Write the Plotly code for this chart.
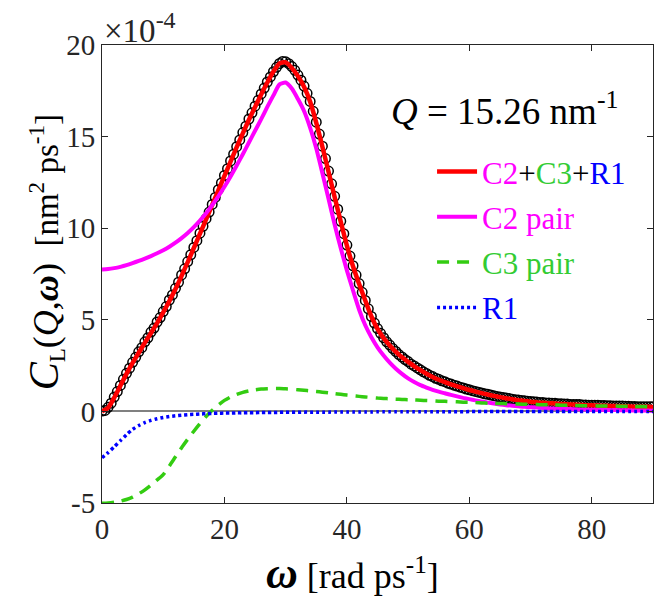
import plotly.graph_objects as go

# ---------------- data (values in units of 1e-4 nm^2 ps^-1) ----------------
omega_data = [i * 0.5 for i in range(181)]
c_data = [
    0.02, 0.05, 0.22, 0.45, 0.78, 1.08, 1.42, 1.75, 2.08, 2.36,
    2.68, 2.95, 3.25, 3.48, 3.80, 4.02, 4.33, 4.55, 4.88, 5.12,
    5.45, 5.72, 6.08, 6.36, 6.72, 7.05, 7.45, 7.78, 8.18, 8.55,
    8.95, 9.32, 9.73, 10.10, 10.52, 10.88, 11.30, 11.68, 12.10, 12.47,
    12.88, 13.25, 13.67, 14.04, 14.45, 14.82, 15.22, 15.57, 15.96, 16.30,
    16.66, 16.98, 17.33, 17.65, 17.98, 18.26, 18.54, 18.78, 18.99, 19.10,
    19.08, 18.98, 18.82, 18.62, 18.36, 18.08, 17.76, 17.36, 16.92, 16.38,
    15.79, 15.14, 14.48, 13.80, 13.12, 12.42, 11.74, 11.04, 10.38, 9.70,
    9.08, 8.48, 7.95, 7.44, 6.98, 6.50, 6.06, 5.60, 5.18, 4.82,
    4.52, 4.26, 4.02, 3.80, 3.62, 3.43, 3.27, 3.10, 2.97, 2.83,
    2.72, 2.58, 2.48, 2.37, 2.27, 2.16, 2.07, 1.97, 1.90, 1.81,
    1.75, 1.67, 1.62, 1.54, 1.49, 1.43, 1.38, 1.32, 1.28, 1.22,
    1.18, 1.13, 1.09, 1.05, 1.01, 0.96, 0.93, 0.89, 0.86, 0.82,
    0.79, 0.76, 0.73, 0.70, 0.67, 0.64, 0.62, 0.60, 0.58, 0.56,
    0.54, 0.52, 0.51, 0.49, 0.48, 0.46, 0.46, 0.44, 0.44, 0.42,
    0.42, 0.40, 0.40, 0.38, 0.38, 0.37, 0.37, 0.35, 0.35, 0.34,
    0.34, 0.33, 0.33, 0.32, 0.32, 0.31, 0.31, 0.30, 0.30, 0.29,
    0.29, 0.28, 0.28, 0.27, 0.27, 0.26, 0.26, 0.26, 0.25, 0.25,
    0.25,
]

omega_fit = list(range(91))
c_total = [
    0.00, 0.20, 0.75, 1.40, 2.05, 2.65, 3.20, 3.75, 4.28, 4.82,
    5.40, 6.02, 6.68, 7.40, 8.15, 8.92, 9.70, 10.48, 11.27, 12.06,
    12.85, 13.64, 14.42, 15.18, 15.92, 16.62, 17.30, 17.95, 18.55, 19.00,
    19.05, 18.75, 18.30, 17.72, 16.90, 15.75, 14.45, 13.08, 11.70, 10.35,
    9.05, 7.92, 6.95, 6.05, 5.18, 4.50, 4.00, 3.60, 3.25, 2.95,
    2.70, 2.46, 2.25, 2.05, 1.88, 1.73, 1.60, 1.48, 1.37, 1.27,
    1.17, 1.08, 1.00, 0.92, 0.85, 0.78, 0.72, 0.66, 0.61, 0.57,
    0.53, 0.50, 0.47, 0.45, 0.43, 0.41, 0.39, 0.37, 0.36, 0.34,
    0.33, 0.32, 0.31, 0.30, 0.29, 0.28, 0.27, 0.26, 0.25, 0.25,
    0.24,
]
c2_pair = [
    7.75, 7.77, 7.82, 7.89, 7.98, 8.09, 8.21, 8.34, 8.48, 8.63,
    8.80, 8.99, 9.21, 9.46, 9.74, 10.06, 10.42, 10.82, 11.26, 11.74,
    12.26, 12.82, 13.42, 14.04, 14.68, 15.32, 15.95, 16.62, 17.25, 17.85,
    17.95, 17.62, 17.05, 16.40, 15.48, 14.35, 13.00, 11.60, 10.20, 8.90,
    7.70, 6.60, 5.55, 4.70, 4.05, 3.50, 3.05, 2.66, 2.33, 2.05,
    1.80, 1.60, 1.43, 1.30, 1.18, 1.08, 0.99, 0.90, 0.82, 0.74,
    0.67, 0.60, 0.54, 0.48, 0.43, 0.38, 0.34, 0.31, 0.28, 0.25,
    0.23, 0.21, 0.19, 0.17, 0.16, 0.15, 0.13, 0.12, 0.11, 0.10,
    0.09, 0.09, 0.08, 0.07, 0.07, 0.06, 0.06, 0.05, 0.05, 0.05,
    0.04,
]
c3_pair = [
    -5.02, -5.00, -4.96, -4.90, -4.81, -4.68, -4.50, -4.28, -4.02, -3.74,
    -3.45, -2.98, -2.48, -1.98, -1.52, -1.08, -0.66, -0.28, 0.06, 0.35,
    0.60, 0.79, 0.93, 1.04, 1.12, 1.18, 1.22, 1.24, 1.25, 1.25,
    1.23, 1.21, 1.18, 1.15, 1.12, 1.09, 1.05, 1.01, 0.97, 0.93,
    0.89, 0.85, 0.82, 0.79, 0.76, 0.73, 0.71, 0.69, 0.67, 0.65,
    0.64, 0.62, 0.61, 0.59, 0.58, 0.56, 0.55, 0.53, 0.52, 0.50,
    0.49, 0.48, 0.46, 0.45, 0.44, 0.43, 0.42, 0.41, 0.40, 0.39,
    0.38, 0.37, 0.36, 0.36, 0.35, 0.34, 0.33, 0.33, 0.32, 0.31,
    0.31, 0.30, 0.30, 0.29, 0.29, 0.28, 0.28, 0.27, 0.27, 0.26,
    0.26,
]
r1 = [
    -2.53, -2.25, -1.93, -1.60, -1.27, -0.98, -0.77, -0.61, -0.49, -0.40,
    -0.33, -0.28, -0.24, -0.21, -0.18, -0.16, -0.14, -0.13, -0.11, -0.10,
    -0.09, -0.09, -0.08, -0.08, -0.07, -0.07, -0.06, -0.06, -0.06, -0.05,
    -0.05, -0.05, -0.05, -0.04, -0.04, -0.04, -0.04, -0.04, -0.03, -0.03,
    -0.03, -0.03, -0.03, -0.03, -0.03, -0.02, -0.02, -0.02, -0.02, -0.02,
    -0.02, -0.02, -0.02, -0.02, -0.02, -0.02, -0.02, -0.02, -0.02, -0.02,
    -0.01, -0.01, -0.01, -0.01, -0.01, -0.01, -0.01, -0.01, -0.01, -0.01,
    -0.01, -0.01, -0.01, -0.01, -0.01, -0.01, -0.01, -0.01, -0.01, -0.01,
    -0.01, -0.01, -0.01, -0.01, -0.01, -0.01, -0.01, -0.01, -0.01, -0.01,
    -0.01,
]

x_tickvals = [0, 20, 40, 60, 80]
x_ticktext = ["0", "20", "40", "60", "80"]
y_tickvals = [-5, 0, 5, 10, 15, 20]
y_ticktext = ["-5", "0", "5", "10", "15", "20"]

MAG = "#ff00ff"
GRN = "#33cc11"
GRN_TXT = "#33cc33"
BLU = "#0000ff"
SERIF = "Liberation Serif, Times New Roman, serif"
AX = "#262626"

fig = go.Figure()

fig.add_trace(go.Scatter(
    x=omega_data, y=c_data, mode="markers", showlegend=False,
    marker=dict(symbol="circle-open", size=9.5, color="black", line=dict(width=1.5, color="black")),
))
fig.add_trace(go.Scatter(
    x=omega_fit, y=c_total, mode="lines", line=dict(color="#ff0000", width=4.5, shape="spline", smoothing=0.6),
    name=f'<span style="color:{MAG}">C2</span>+<span style="color:{GRN_TXT}">C3</span>+<span style="color:{BLU}">R1</span>',
    legendgroup="a",
))
fig.add_trace(go.Scatter(
    x=omega_fit, y=c2_pair, mode="lines", line=dict(color=MAG, width=4, shape="spline", smoothing=0.6),
    name=f'<span style="color:{MAG}">C2 pair</span>', legendgroup="b",
))
fig.add_trace(go.Scatter(
    x=omega_fit, y=c3_pair, mode="lines", line=dict(color=GRN, width=3.5, dash="12px,8px", shape="spline", smoothing=0.6),
    name=f'<span style="color:{GRN_TXT}">C3 pair</span>', legendgroup="c",
))
fig.add_trace(go.Scatter(
    x=omega_fit, y=r1, mode="lines", line=dict(color=BLU, width=3.5, dash="3px,3px", shape="spline", smoothing=0.6),
    name=f'<span style="color:{BLU}">R1</span>', legendgroup="d",
))

fig.update_layout(
    width=654, height=597,
    margin=dict(l=102, r=1, t=45, b=94, autoexpand=False),
    paper_bgcolor="white", plot_bgcolor="white",
    font=dict(family=SERIF, size=29, color=AX),
    showlegend=True,
    legend=dict(
        x=0.599, y=0.782, xanchor="left", yanchor="top",
        bgcolor="rgba(0,0,0,0)", borderwidth=0,
        font=dict(family=SERIF, size=31, color="black"),
        traceorder="grouped", tracegroupgap=2, itemwidth=40,
    ),
    xaxis=dict(
        range=[0, 90], tickvals=x_tickvals, ticktext=x_ticktext,
        ticks="inside", ticklen=6, tickcolor=AX, tickwidth=1,
        showline=True, linecolor=AX, linewidth=1, mirror="ticks",
        showgrid=False, zeroline=False,
        tickfont=dict(family=SERIF, size=29, color=AX),
    ),
    yaxis=dict(
        range=[-5, 20], tickvals=y_tickvals, ticktext=y_ticktext,
        ticks="inside", ticklen=6, tickcolor=AX, tickwidth=1,
        showline=True, linecolor=AX, linewidth=1, mirror="ticks",
        showgrid=False, zeroline=True, zerolinecolor="#808080", zerolinewidth=2,
        tickfont=dict(family=SERIF, size=29, color=AX),
    ),
    annotations=[
        dict(text='<span style="font-size:33px">×10</span><sup><span style="font-size:24px">-4</span></sup>',
             xref="paper", yref="paper", x=0.0, y=1.0,
             xanchor="left", yanchor="bottom", showarrow=False, xshift=0, yshift=-6,
             font=dict(family=SERIF, size=33, color=AX)),
        dict(text="<i>Q</i> = 15.26 nm<sup>-1</sup>", xref="paper", yref="paper",
             x=0.731, y=0.862, xanchor="center", yanchor="middle", showarrow=False,
             font=dict(family=SERIF, size=37, color="black")),
        dict(text='<span style="font-size:42px"><i>C</i></span><sub>L</sub>'
                  '<span style="font-size:36px">(<i>Q</i>,<b><i>ω</i></b>)</span>'
                  '  [nm<sup>2</sup> ps<sup>-1</sup>]',
             xref="paper", yref="paper", x=-0.103, y=0.548, textangle=-90,
             xanchor="center", yanchor="middle", showarrow=False,
             font=dict(family=SERIF, size=33, color="black")),
        dict(text='<span style="font-size:44px"><b><i>ω</i></b></span> [rad ps<sup>-1</sup>]',
             xref="paper", yref="paper", x=0.454, y=-0.153,
             xanchor="center", yanchor="middle", showarrow=False,
             font=dict(family=SERIF, size=36, color="black")),
    ],
)

fig.write_html("out.html", config={"displayModeBar": False},
               post_script="document.body.style.margin='0px';document.body.style.padding='0px';")
